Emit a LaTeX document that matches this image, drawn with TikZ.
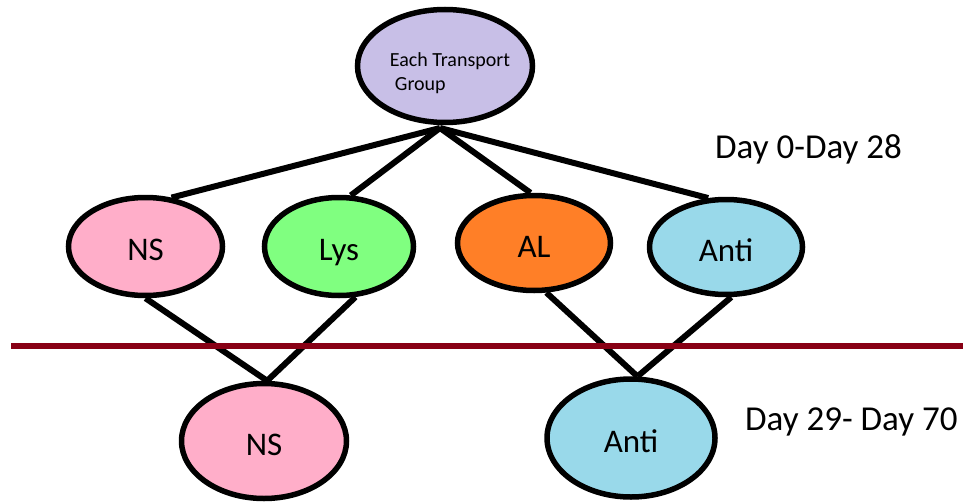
\documentclass[tikz,border=0pt]{standalone}
\usepackage{fontspec}
\setmainfont{Carlito}
\usetikzlibrary{shapes.geometric}
\definecolor{lav}{HTML}{C8BFE7}
\definecolor{rose}{HTML}{FFAEC9}
\definecolor{lgreen}{HTML}{80FF80}
\definecolor{orng}{HTML}{FF7F27}
\definecolor{turq}{HTML}{99D9EA}
\definecolor{sepred}{HTML}{880015}
\begin{document}
\begin{tikzpicture}[x=1pt,y=-1pt,
  grp/.style={ellipse, draw=black, line width=5.5pt, inner sep=0pt, text height=28pt, text depth=0pt, font=\fontsize{33}{40}\selectfont},
  link/.style={line width=6pt, draw=black},
  daylabel/.style={anchor=base west, inner sep=0pt, font=\fontsize{35}{40}\selectfont},
  separator/.style={line width=6pt, draw=sepred}]
\useasboundingbox (0,0) rectangle (963,503);
% top group
\node[grp, fill=lav, minimum width=175pt, minimum height=113pt] (top) at (445,66) {};
\node[font=\fontsize{20}{23.5}\selectfont, align=left, inner sep=0pt] (toptext) at (450,73) {Each Transport\\\hspace{5pt}Group};
% second row
\node[grp, fill=rose, minimum width=154pt, minimum height=98pt] (ns1) at (145.5,246.5) {NS};
\node[grp, fill=lgreen, minimum width=149pt, minimum height=98pt] (lys) at (339,246.5) {Lys};
\node[grp, fill=orng, minimum width=153pt, minimum height=95pt] (al) at (534,243) {AL};
\node[grp, fill=turq, minimum width=153pt, minimum height=95pt] (anti1) at (726,247) {Anti};
% third row
\node[grp, fill=rose, minimum width=165pt, minimum height=115pt] (ns2) at (264,441) {NS};
\node[grp, fill=turq, minimum width=168pt, minimum height=118pt] (anti2) at (631,438) {Anti};
% connectors
\coordinate (hub) at (440,128);
\draw[link] (hub) -- (ns1.62);
\draw[link] (hub) -- (lys.77);
\draw[link] (hub) -- (al.94);
\draw[link] (hub) -- (anti1.110);
\draw[link] (ns1.south) -- (ns2.87);
\draw[link] (lys.-72) -- (ns2.87);
\draw[link] (al.-76) -- (anti2.84);
\draw[link] (anti1.-84) -- (anti2.84);
% separator
\coordinate (sepL) at (11,346);
\coordinate (sepR) at (963,346);
\draw[separator] (sepL) -- (sepR);
% period labels
\node[daylabel] (d1) at (715,158) {Day 0-Day 28};
\node[daylabel] (d2) at (745,430) {Day 29- Day 70};
\end{tikzpicture}
\end{document}
